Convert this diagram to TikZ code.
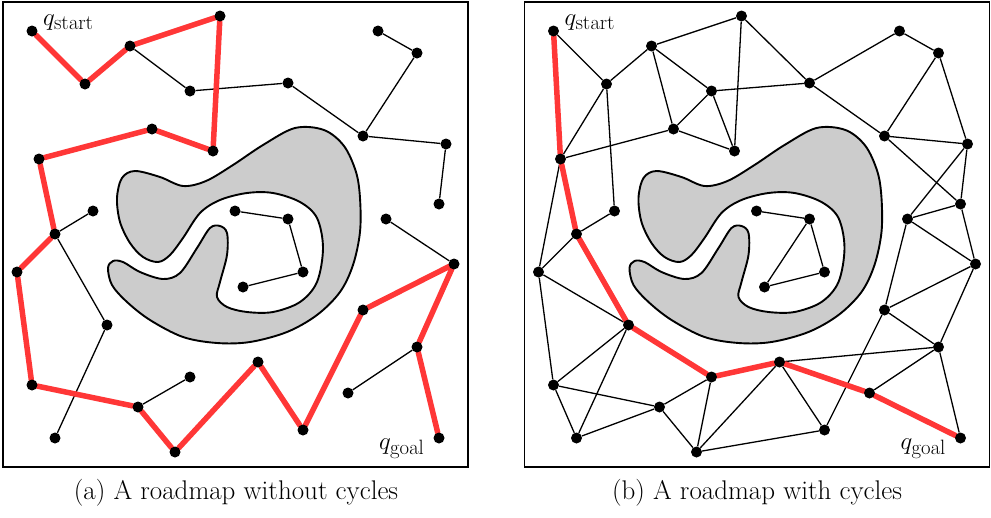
\documentclass[tikz,border=0pt]{standalone}
\pgfdeclarelayer{back}
\pgfdeclarelayer{edges}
\pgfsetlayers{back,edges,main}
\definecolor{routered}{RGB}{255,55,55}
\definecolor{obstgray}{RGB}{204,204,204}
\tikzset{
  dot/.style={circle, fill=black, inner sep=0pt, minimum size=11pt},
  tree/.style={line width=1.3pt, black},
  redroute/.style={line width=5.5pt, routered, line cap=round, line join=round},
  panelframe/.style={draw=black, line width=1.8pt},
  obst/.style={draw=black, fill=obstgray, line width=1.9pt},
  qlabel/.style={inner sep=0pt, font=\fontsize{28}{32}\selectfont},
  caption/.style={inner sep=0pt, font=\fontsize{27}{32}\selectfont},
}
\begin{document}
\begin{tikzpicture}[x=1pt,y=-1pt]
\useasboundingbox (0,0) rectangle (991,517);

% two panels: same free space, same sample points
\foreach \p/\dx in {a/0, b/521.5} {
  \begin{scope}[xshift=\dx pt]
    \begin{pgfonlayer}{back}
      \draw[panelframe] (3,2) rectangle (468,467);
      \draw[obst] plot[smooth cycle, tension=0.55] coordinates {
        (117,198) (122,178) (135,171) (160,177) (183,186)
        (206,181) (233,165) (263,145) (295,128) (324,130)
        (344,146) (356,172)
        (360,198) (360,232) (353,265) (340,292) (317,315) (287,332)
        (250,342) (217,343) (183,337) (150,320) (127,302) (112,285)
        (108,268) (113,261) (123,262) (140,272) (163,279) (180,273)
        (197,248) (210,228) (220,226) (227,233) (227,255) (220,282)
        (217,297) (227,307) (247,312) (273,312) (300,302) (317,282)
        (323,248) (317,218) (300,202) (273,193) (247,193) (220,200)
        (200,213) (183,238) (170,255) (158,262) (143,257) (130,243)
        (120,222)};
    \end{pgfonlayer}
    \foreach \i/\x/\y in {
      1/32/31, 2/85/84, 3/130/46, 4/220/16, 5/190/91, 6/152/129,
      7/213/151, 8/39/159, 9/93/211, 10/55/234, 11/235/211, 12/378/31,
      13/417/53, 14/288/83, 15/363/136, 16/446/144, 17/439/204,
      18/386/219, 19/288/219, 20/17/272, 21/107/325, 22/32/385,
      23/138/407, 24/190/377, 25/55/438, 26/175/452, 27/243/287,
      28/303/272, 29/454/264, 30/363/310, 31/417/347, 32/348/393,
      33/258/362, 34/303/430, 35/439/438}
      \node[dot] (\p\i) at (\x,\y) {};
    \node[qlabel, anchor=base west] (\p start) at (43,25) {$q_{\mathrm{start}}$};
    \node[qlabel, anchor=base west] (\p goal) at (379,449) {$q_{\mathrm{goal}}$};
  \end{scope}
}

\node[caption] (capa) at (236,493) {(a) A roadmap without cycles};
\node[caption] (capb) at (757,493) {(b) A roadmap with cycles};

\begin{pgfonlayer}{edges}
  % (a) tree roadmap
  \foreach \u/\v in {3/5, 5/14, 14/15, 15/13, 13/12, 15/16, 16/17, 18/29,
                     10/9, 10/21, 21/25, 23/24, 31/32, 11/19, 19/28, 28/27}
    \draw[tree] (a\u) -- (a\v);
  \draw[redroute] (a1) -- (a2) -- (a3) -- (a4) -- (a7) -- (a6) -- (a8)
    -- (a10) -- (a20) -- (a22) -- (a23) -- (a26) -- (a33) -- (a34)
    -- (a30) -- (a29) -- (a31) -- (a35);

  % (b) roadmap with cycles
  \foreach \u/\v in {1/2, 2/3, 3/4, 4/7, 3/5, 3/6, 6/5, 5/7, 6/7, 5/14,
                     8/6, 8/2, 2/9, 9/10, 8/20, 10/20, 4/14, 14/12, 12/13,
                     14/15, 13/15, 13/16, 15/16, 15/17, 16/18, 16/17, 18/17,
                     18/29, 17/29, 18/30, 11/19, 19/27, 19/28, 27/28, 29/30,
                     30/31, 29/31, 33/31, 31/32, 31/35, 30/34, 33/34, 26/34,
                     26/33, 20/21, 20/22, 21/22, 21/25, 22/25, 22/23, 25/23,
                     23/24, 23/26, 24/26}
    \draw[tree] (b\u) -- (b\v);
  \draw[redroute] (b1) -- (b8) -- (b10) -- (b21) -- (b24) -- (b33)
    -- (b32) -- (b35);
\end{pgfonlayer}
\end{tikzpicture}
\end{document}
